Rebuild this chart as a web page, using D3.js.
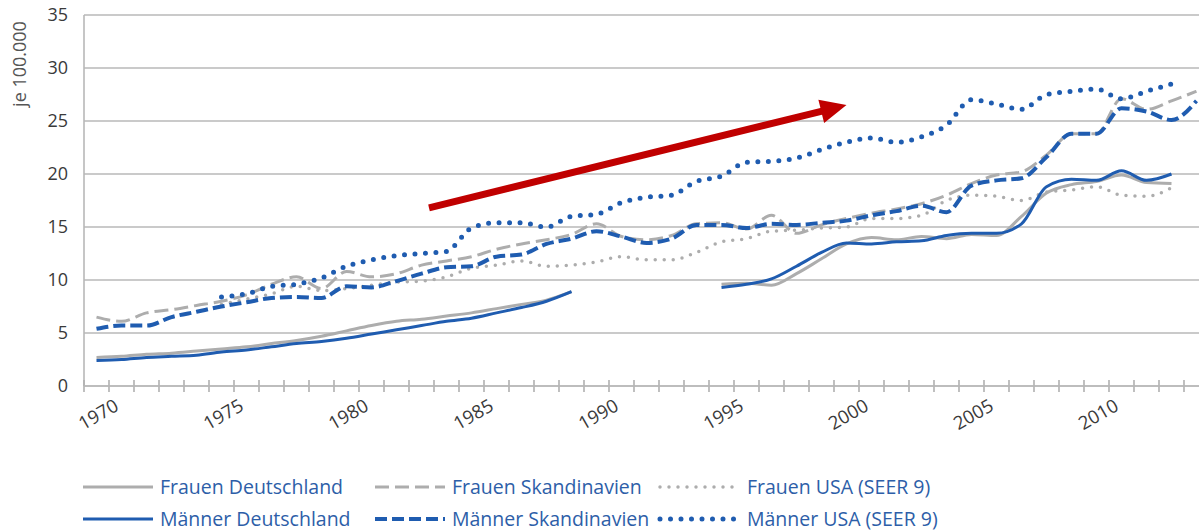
<!DOCTYPE html>
<html>
<head>
<meta charset="utf-8">
<script src="https://cdn.jsdelivr.net/npm/d3@7"></script>
<style>
  body { margin: 0; background: #fff; }
  svg { display: block; font-family: "Open Sans", "Noto Sans", sans-serif; }
</style>
</head>
<body>
<svg width="1199" height="532"></svg>
<script>
// Jahre (Kategorien)
const years = [1970, 1971, 1972, 1973, 1974, 1975, 1976, 1977, 1978, 1979,
  1980, 1981, 1982, 1983, 1984, 1985, 1986, 1987, 1988, 1989,
  1990, 1991, 1992, 1993, 1994, 1995, 1996, 1997, 1998, 1999,
  2000, 2001, 2002, 2003, 2004, 2005, 2006, 2007, 2008, 2009,
  2010, 2011, 2012, 2013, 2014];

const frauenDeutschland = [2.7, 2.8, 3.0, 3.1, 3.3, 3.5, 3.7, 4.0, 4.3, 4.7,
  5.2, 5.7, 6.1, 6.3, 6.6, 6.9, 7.3, 7.7, 8.1, 8.9,
  null, null, null, null, null, 9.6, 9.7, 9.5, 10.6, 12.0,
  13.4, 14.0, 13.8, 14.1, 13.9, 14.3, 14.2, 16.0, 18.2, 19.0,
  19.3, 19.9, 19.2, 19.1, null];

const maennerDeutschland = [2.4, 2.5, 2.7, 2.8, 2.9, 3.2, 3.4, 3.7, 4.0, 4.2,
  4.5, 4.9, 5.3, 5.7, 6.1, 6.4, 6.9, 7.4, 8.0, 8.9,
  null, null, null, null, null, 9.3, 9.6, 10.1, 11.3, 12.6,
  13.5, 13.4, 13.6, 13.7, 14.2, 14.4, 14.4, 15.3, 18.8, 19.5,
  19.4, 20.3, 19.4, 20.0, null];

const frauenSkandinavien = [6.5, 6.1, 6.9, 7.2, 7.6, 8.0, 8.6, 9.6, 10.3, 9.2,
  10.8, 10.3, 10.6, 11.4, 11.8, 12.2, 12.9, 13.4, 13.8, 14.3,
  15.3, 14.1, 13.8, 14.2, 15.3, 15.4, 14.8, 16.1, 14.4, 15.2,
  15.8, 16.3, 16.7, 17.2, 18.0, 19.1, 19.9, 20.2, 21.8, 23.8,
  23.8, 27.1, 26.1, 26.9, 27.8];

const maennerSkandinavien = [5.4, 5.7, 5.7, 6.5, 7.0, 7.5, 7.9, 8.3, 8.4, 8.3,
  9.4, 9.3, 9.9, 10.6, 11.2, 11.3, 12.2, 12.4, 13.4, 13.9,
  14.6, 14.1, 13.5, 13.9, 15.2, 15.2, 14.9, 15.3, 15.2, 15.4,
  15.6, 16.1, 16.5, 17.0, 16.4, 18.9, 19.4, 19.6, 21.6, 23.8,
  23.8, 26.2, 25.9, 25.1, 26.9];

const frauenUSA = [null, null, null, null, null, 7.7, 8.2, 8.7, 9.4, 9.0,
  9.2, 9.5, 9.8, 9.9, 10.3, 11.1, 11.4, 11.8, 11.3, 11.4,
  11.7, 12.2, 11.9, 11.9, 12.6, 13.6, 13.9, 14.6, 14.7, 14.9,
  15.0, 15.8, 15.8, 16.1, 17.5, 18.0, 17.9, 17.5, 18.3, 18.5,
  18.8, 18.0, 17.9, 18.7, null];

const maennerUSA = [null, null, null, null, null, 8.4, 8.7, 9.4, 9.6, 10.2,
  11.3, 11.9, 12.3, 12.5, 12.7, 14.9, 15.4, 15.4, 15.0, 16.0,
  16.2, 17.3, 17.8, 18.0, 19.3, 19.8, 21.1, 21.2, 21.5, 22.3,
  23.0, 23.4, 23.0, 23.5, 24.6, 27.0, 26.6, 26.1, 27.5, 27.8,
  28.0, 27.1, 27.8, 28.5, null];

const yTicks = [0, 5, 10, 15, 20, 25, 30, 35];
const xLabels = [1970, 1975, 1980, 1985, 1990, 1995, 2000, 2005, 2010];

// Trendpfeil (Jahr, Wert)
const arrowFrom = [1983.3, 16.8];
const arrowTo = [2000.0, 26.5];

const gray = "#adadad";
const blue = "#1f5cb0";

const series = [
  { name: "Frauen Deutschland", values: frauenDeutschland, color: gray, width: 3, dash: null, cap: "butt" },
  { name: "Frauen Skandinavien", values: frauenSkandinavien, color: gray, width: 3, dash: "14,6", cap: "butt" },
  { name: "Frauen USA (SEER 9)", values: frauenUSA, color: gray, width: 3.5, dash: "0,9", cap: "round" },
  { name: "Männer Deutschland", values: maennerDeutschland, color: blue, width: 3, dash: null, cap: "butt" },
  { name: "Männer Skandinavien", values: maennerSkandinavien, color: blue, width: 4, dash: "12,5", cap: "butt" },
  { name: "Männer USA (SEER 9)", values: maennerUSA, color: blue, width: 5, dash: "0,10.5", cap: "round" }
];

const svg = d3.select("svg");
const W = +svg.attr("width");
const plotLeft = 84, plotTop = 15, plotBottom = 386;

const x = d3.scaleLinear().domain([1969.5, 2013.5]).range([plotLeft, plotLeft + 44 * 25]);
const y = d3.scaleLinear().domain([0, 35]).range([plotBottom, plotTop]);

// Gitterlinien
svg.append("g")
  .selectAll("line")
  .data(yTicks)
  .join("line")
  .attr("x1", plotLeft).attr("x2", W)
  .attr("y1", d => y(d)).attr("y2", d => y(d))
  .attr("stroke", "#b8b8b8")
  .attr("stroke-width", 1.6);

// Y-Achse
svg.append("line")
  .attr("x1", plotLeft).attr("x2", plotLeft)
  .attr("y1", y(35)).attr("y2", y(0))
  .attr("stroke", "#b8b8b8").attr("stroke-width", 1.6);

const yAxis = svg.append("g")
  .attr("transform", `translate(${plotLeft - 16},0)`)
  .call(d3.axisLeft(y).tickValues(yTicks).tickSize(0).tickPadding(0));
yAxis.select(".domain").remove();
yAxis.selectAll("text")
  .attr("fill", "#3a3a3a")
  .style("font-size", "18px")
  .style("font-family", "Open Sans, sans-serif");

// X-Achse Striche
const tickYears = d3.range(1969.5, 2014, 1);
svg.append("g")
  .selectAll("line")
  .data(tickYears)
  .join("line")
  .attr("x1", d => x(d)).attr("x2", d => x(d))
  .attr("y1", plotBottom - 6).attr("y2", plotBottom + 6)
  .attr("stroke", "#b0b0b0").attr("stroke-width", 1.6);

svg.append("line")
  .attr("x1", plotLeft).attr("x2", W)
  .attr("y1", plotBottom).attr("y2", plotBottom)
  .attr("stroke", "#b8b8b8").attr("stroke-width", 1.6);

svg.append("g")
  .selectAll("text")
  .data(xLabels)
  .join("text")
  .attr("transform", d => `translate(${x(d) + 5},${plotBottom + 34}) rotate(-30)`)
  .attr("text-anchor", "middle")
  .attr("fill", "#3a3a3a")
  .style("font-size", "18.5px")
  .text(d => d);

// Y-Achsentitel
svg.append("text")
  .attr("transform", `translate(26,64) rotate(-90)`)
  .attr("text-anchor", "middle")
  .attr("fill", "#555")
  .style("font-size", "18px")
  .text("je 100.000");

// Linien
const line = d3.line()
  .defined(d => d.v != null)
  .x(d => x(d.year))
  .y(d => y(d.v))
  .curve(d3.curveMonotoneX);

series.forEach(s => {
  const pts = years.map((yr, i) => ({ year: yr, v: s.values[i] }));
  svg.append("path")
    .datum(pts)
    .attr("fill", "none")
    .attr("stroke", s.color)
    .attr("stroke-width", s.width)
    .attr("stroke-dasharray", s.dash)
    .attr("stroke-linecap", s.cap)
    .attr("stroke-linejoin", "round")
    .attr("d", line);
});

// Pfeil
const ax0 = x(arrowFrom[0]), ay0 = y(arrowFrom[1]);
const ax1 = x(arrowTo[0]), ay1 = y(arrowTo[1]);
const ang = Math.atan2(ay1 - ay0, ax1 - ax0);
const headLen = 26, headHalf = 12;
const bx = ax1 - headLen * Math.cos(ang), by = ay1 - headLen * Math.sin(ang);
svg.append("line")
  .attr("x1", ax0).attr("y1", ay0)
  .attr("x2", bx + 2 * Math.cos(ang)).attr("y2", by + 2 * Math.sin(ang))
  .attr("stroke", "#c00000").attr("stroke-width", 7);
svg.append("path")
  .attr("d", `M${ax1},${ay1} L${bx - headHalf * Math.sin(ang)},${by + headHalf * Math.cos(ang)} L${bx + headHalf * Math.sin(ang)},${by - headHalf * Math.cos(ang)} Z`)
  .attr("fill", "#c00000");

// Legende
const colX = [83, 375, 660];
const colLen = [70, 70, 80];
const rowY = [487, 519];

const leg = svg.append("g")
  .selectAll("g")
  .data(series)
  .join("g")
  .attr("transform", (d, i) => `translate(${colX[i % 3]},${rowY[Math.floor(i / 3)]})`);

leg.append("line")
  .attr("x1", 0).attr("x2", (d, i) => colLen[i % 3])
  .attr("y1", 0).attr("y2", 0)
  .attr("stroke", d => d.color)
  .attr("stroke-width", d => d.width)
  .attr("stroke-dasharray", d => d.dash)
  .attr("stroke-linecap", d => d.cap);

leg.append("text")
  .attr("x", (d, i) => colLen[i % 3] + 7)
  .attr("dy", "0.35em")
  .attr("fill", "#2d5ea8")
  .style("font-size", "19.5px")
  .text(d => d.name);
</script>
</body>
</html>
